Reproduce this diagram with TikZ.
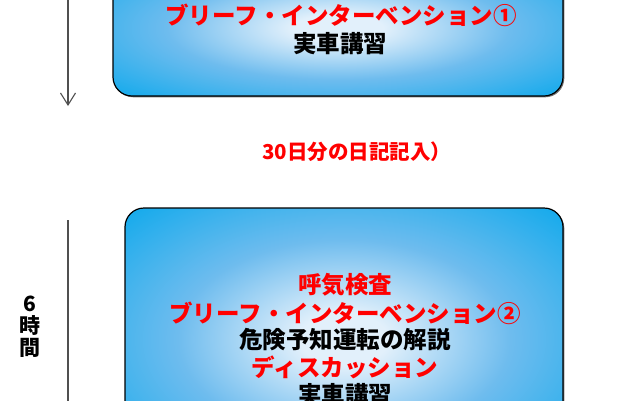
\documentclass[tikz,border=0pt]{standalone}
\usepackage{fontspec}
\newfontfamily\jp{Noto Sans CJK JP}
\usetikzlibrary{arrows.meta,shadows}
\definecolor{boxblue}{RGB}{20,170,236}
\definecolor{boxmid}{RGB}{110,188,238}
\definecolor{boxlight}{RGB}{226,240,251}
\definecolor{txtred}{RGB}{255,0,0}
\definecolor{linegrey}{RGB}{80,80,80}
\pgfdeclareradialshading{boxshade}{\pgfpoint{0bp}{0bp}}{color(0bp)=(boxlight); color(5bp)=(boxlight); color(19bp)=(boxmid); color(35bp)=(boxblue); color(72bp)=(boxblue)}
\tikzset{
  stagebox/.style={draw=black, line width=1.2pt, rounded corners=19pt, shading=boxshade,
    drop shadow={shadow xshift=1.3pt, shadow yshift=-1.3pt, opacity=0.55, fill=black},
    inner sep=0pt},
  redtxt/.style={text=txtred, font=\jp\bfseries\fontsize{23.5}{26}\selectfont, inner sep=0pt},
  blacktxt/.style={text=black, font=\jp\bfseries\fontsize{23.5}{26}\selectfont, inner sep=0pt},
  timeline/.style={draw=linegrey, line width=1.1pt},
}
\begin{document}
\begin{tikzpicture}[x=1pt,y=-1pt]
\useasboundingbox (0,0) rectangle (640,400);
\clip (0,0) rectangle (640,400);
% boxes
\node[stagebox, minimum width=450pt, minimum height=136pt] (box1) at (338,28) {};
\node[stagebox, minimum width=438pt, minimum height=262pt] (box2) at (344,339) {};
% box 1 texts
\node[redtxt] (b1l1) at (341,15) {ブリーフ・インターベンション①};
\node[blacktxt] (b1l2) at (340,44) {実車講習};
% middle text
\node[text=txtred, font=\jp\bfseries\fontsize{20.5}{24}\selectfont, inner sep=0pt, anchor=west] (diary) at (262,152) {30日分の日記記入）};
% box 2 texts
\node[redtxt] (b2l1) at (345,285) {呼気検査};
\node[redtxt] (b2l2) at (345,313) {ブリーフ・インターベンション②};
\node[blacktxt] (b2l3) at (345,340) {危険予知運転の解説};
\node[redtxt] (b2l4) at (345,367) {ディスカッション};
\node[blacktxt] (b2l5) at (345,395) {実車講習};
% time arrows
\coordinate (t1a) at (68,-5);
\coordinate (t1b) at (68,106);
\draw[timeline, -{Straight Barb[length=12pt,width=15pt,line width=1.1pt]}] (t1a) -- (t1b);
\coordinate (t2a) at (68,220);
\coordinate (t2b) at (68,410);
\draw[timeline] (t2a) -- (t2b);
\node[text=black, font=\jp\bfseries\fontsize{21}{22}\selectfont, align=center, inner sep=0pt] (hours) at (30,327) {6\\時\\間};
\end{tikzpicture}
\end{document}
